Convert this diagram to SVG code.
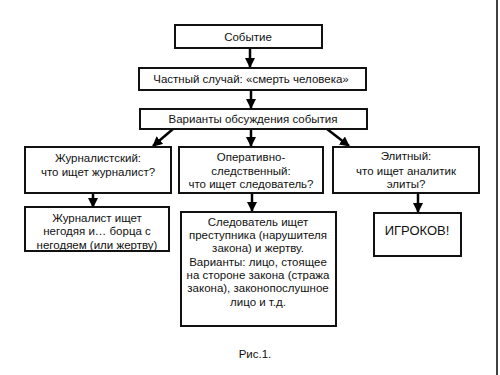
<svg xmlns="http://www.w3.org/2000/svg" width="500" height="375" viewBox="0 0 500 375">
<defs>
<marker id="ah" markerWidth="10" markerHeight="10" refX="9" refY="5" orient="auto" markerUnits="userSpaceOnUse">
<path d="M0,0 L10,5 L0,10 Z" fill="#000"/>
</marker>
<style>
.box{fill:#fff;stroke:#111;stroke-width:2}
.t{font-family:"Liberation Sans",Arial,sans-serif;font-size:11.5px;fill:#111;text-anchor:middle}
.c{stroke:#000;stroke-width:2.5;fill:none;marker-end:url(#ah)}
</style>
</defs>
<rect width="500" height="375" fill="#fff"/>
<line x1="497" y1="0" x2="497" y2="375" stroke="#000" stroke-width="1.5"/>
<g id="connectors">
<line class="c" x1="250" y1="48" x2="250" y2="67"/>
<line class="c" x1="251" y1="90" x2="251" y2="108"/>
<line class="c" x1="173" y1="129" x2="153" y2="146"/>
<line class="c" x1="251" y1="129" x2="251" y2="146"/>
<line class="c" x1="327" y1="129" x2="349" y2="146"/>
<line class="c" x1="93" y1="193" x2="93" y2="207"/>
<line class="c" x1="252" y1="193" x2="252" y2="211"/>
<line class="c" x1="418" y1="193" x2="418" y2="212"/>
</g>
<g id="n1"><rect class="box" x="175" y="25" width="147" height="23"/><text class="t" x="248" y="41">Событие</text></g>
<g id="n2"><rect class="box" x="139" y="68" width="227" height="22"/><text class="t" x="251" y="83">Частный случай: «смерть человека»</text></g>
<g id="n3"><rect class="box" x="140" y="109" width="227" height="20"/><text class="t" x="253" y="123">Варианты обсуждения события</text></g>
<g id="n4"><rect class="box" x="25" y="147" width="146" height="46"/><text class="t" x="98" y="162">Журналистский:</text><text class="t" x="98" y="176">что ищет журналист?</text></g>
<g id="n5"><rect class="box" x="179" y="147" width="144" height="46"/><text class="t" x="251" y="161">Оперативно-</text><text class="t" x="251" y="175">следственный:</text><text class="t" x="251" y="188">что ищет следователь?</text></g>
<g id="n6"><rect class="box" x="333" y="147" width="146" height="46"/><text class="t" x="406" y="160">Элитный:</text><text class="t" x="406" y="175">что ищет аналитик</text><text class="t" x="406" y="188">элиты?</text></g>
<g id="n7"><rect class="box" x="25" y="207" width="144" height="44"/><text class="t" x="97" y="222">Журналист ищет</text><text class="t" x="97" y="235">негодяя и… борца с</text><text class="t" x="97" y="249">негодяем (или жертву)</text></g>
<g id="n8"><rect class="box" x="181" y="212" width="155" height="114"/><text class="t" x="258" y="226">Следователь ищет</text><text class="t" x="258" y="239">преступника (нарушителя</text><text class="t" x="258" y="252">закона) и жертву.</text><text class="t" x="258" y="266">Варианты: лицо, стоящее</text><text class="t" x="258" y="279">на стороне закона (стража</text><text class="t" x="258" y="292">закона), законопослушное</text><text class="t" x="258" y="306">лицо и т.д.</text></g>
<g id="n9"><rect class="box" x="374" y="213" width="87" height="43"/><text class="t" x="417" y="235" style="font-size:13px">ИГРОКОВ!</text></g>
<text class="t" x="255" y="358">Рис.1.</text>
</svg>
